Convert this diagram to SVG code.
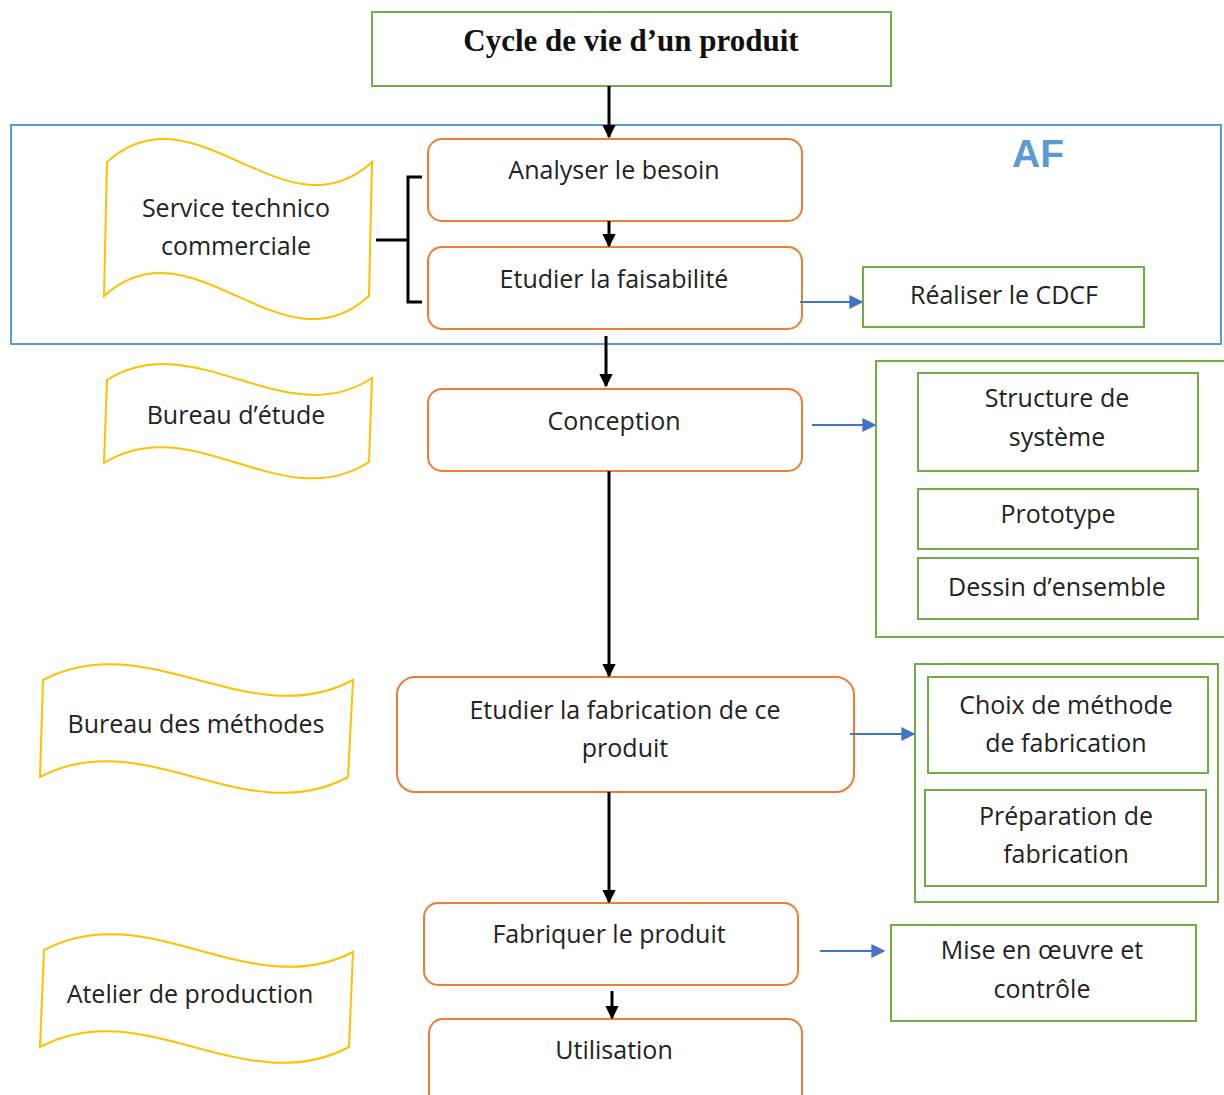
<svg xmlns="http://www.w3.org/2000/svg" width="1224" height="1095" viewBox="0 0 1224 1095">
  <defs>
    <marker id="arrowBlack" viewBox="0 0 10 10" refX="9" refY="5" markerWidth="4.5" markerHeight="4.5" orient="auto" markerUnits="strokeWidth">
      <path d="M0,0 L10,5 L0,10 Z" fill="#000"/>
    </marker>
    <marker id="arrowBlue" viewBox="0 0 10 10" refX="9" refY="5" markerWidth="7" markerHeight="7" orient="auto" markerUnits="strokeWidth">
      <path d="M0,0 L10,5 L0,10 Z" fill="#4472C4"/>
    </marker>
  </defs>
  <style>
    .step { fill: #fff; stroke: #ED7D31; stroke-width: 2; }
    .out { fill: #fff; stroke: #70AD47; stroke-width: 2; }
    .wave { fill: #fff; stroke: #FFC000; stroke-width: 2; }
    .zone { fill: none; stroke: #5B9BD5; stroke-width: 2; }
    .lbl { font-family: "Open Sans", "Noto Sans", "DejaVu Sans", sans-serif; font-size: 25px; fill: #222; text-anchor: middle; }
    .flow { stroke: #000; stroke-width: 3; fill: none; marker-end: url(#arrowBlack); }
    .link { stroke: #4472C4; stroke-width: 2; fill: none; marker-end: url(#arrowBlue); }
  </style>
  <rect width="1224" height="1095" fill="#fff"/>

  <!-- AF zone -->
  <g id="zone-af">
    <rect class="zone" x="11" y="125" width="1210" height="219"/>
    <text x="1038" y="167" font-family="Liberation Sans, Arial, sans-serif" font-weight="bold" font-size="39" fill="#5B9BD5" text-anchor="middle">AF</text>
  </g>

  <!-- Title -->
  <g id="title">
    <rect class="out" x="372" y="12" width="519" height="74"/>
    <text x="631" y="51" font-family="Liberation Serif, Times New Roman, serif" font-weight="bold" font-size="31" fill="#111" text-anchor="middle">Cycle de vie d’un produit</text>
  </g>

  <!-- Services (wave shapes) -->
  <g id="svc-commercial">
    <path class="wave" d="M107,162 C195,82 285,242 372,162 L369,296 C282,376 192,216 104,296 Z"/>
    <text class="lbl" x="236" y="217">Service technico</text>
    <text class="lbl" x="236" y="255">commerciale</text>
  </g>
  <g id="svc-etude">
    <path class="wave" d="M107,380 C195,325 285,435 372,378 L369,462 C282,518 192,408 104,463 Z"/>
    <text class="lbl" x="236" y="424">Bureau d’étude</text>
  </g>
  <g id="svc-methodes">
    <path class="wave" d="M43,680 C146,625 250,735 353,680 L348,777 C246,832 142,722 40,777 Z"/>
    <text class="lbl" x="196" y="733">Bureau des méthodes</text>
  </g>
  <g id="svc-atelier">
    <path class="wave" d="M44,950 C147,895 250,1005 353,952 L349,1047 C245,1102 142,992 40,1047 Z"/>
    <text class="lbl" x="190" y="1003">Atelier de production</text>
  </g>

  <!-- Main steps -->
  <g id="step-besoin">
    <rect class="step" x="428" y="139" width="374" height="82" rx="14"/>
    <text class="lbl" x="614" y="179">Analyser le besoin</text>
  </g>
  <g id="step-faisabilite">
    <rect class="step" x="428" y="247" width="374" height="82" rx="14"/>
    <text class="lbl" x="614" y="288">Etudier la faisabilité</text>
  </g>
  <g id="step-conception">
    <rect class="step" x="428" y="389" width="374" height="82" rx="14"/>
    <text class="lbl" x="614" y="430">Conception</text>
  </g>
  <g id="step-fabrication-etude">
    <rect class="step" x="397" y="677" width="457" height="115" rx="18"/>
    <text class="lbl" x="625" y="719">Etudier la fabrication de ce</text>
    <text class="lbl" x="625" y="757">produit</text>
  </g>
  <g id="step-fabriquer">
    <rect class="step" x="424" y="903" width="374" height="82" rx="14"/>
    <text class="lbl" x="609" y="943">Fabriquer le produit</text>
  </g>
  <g id="step-utilisation">
    <rect class="step" x="429" y="1019" width="373" height="90" rx="14"/>
    <text class="lbl" x="614" y="1059">Utilisation</text>
  </g>

  <!-- Outputs -->
  <g id="out-cdcf">
    <rect class="out" x="863" y="267" width="281" height="60"/>
    <text class="lbl" x="1004" y="304">Réaliser le CDCF</text>
  </g>
  <g id="out-conception">
    <rect class="out" x="876" y="361" width="350" height="276"/>
    <g id="out-structure">
      <rect class="out" x="918" y="373" width="280" height="98"/>
      <text class="lbl" x="1057" y="407">Structure de</text>
      <text class="lbl" x="1057" y="446">système</text>
    </g>
    <g id="out-prototype">
      <rect class="out" x="918" y="489" width="280" height="60"/>
      <text class="lbl" x="1058" y="523">Prototype</text>
    </g>
    <g id="out-dessin">
      <rect class="out" x="918" y="558" width="280" height="61"/>
      <text class="lbl" x="1057" y="596">Dessin d’ensemble</text>
    </g>
  </g>
  <g id="out-methodes">
    <rect class="out" x="915" y="664" width="303" height="238"/>
    <g id="out-choix">
      <rect class="out" x="928" y="677" width="280" height="96"/>
      <text class="lbl" x="1066" y="714">Choix de méthode</text>
      <text class="lbl" x="1066" y="752">de fabrication</text>
    </g>
    <g id="out-preparation">
      <rect class="out" x="925" y="790" width="281" height="96"/>
      <text class="lbl" x="1066" y="825">Préparation de</text>
      <text class="lbl" x="1066" y="863">fabrication</text>
    </g>
  </g>
  <g id="out-mise-en-oeuvre">
    <rect class="out" x="891" y="925" width="305" height="96"/>
    <text class="lbl" x="1042" y="959">Mise en œuvre et</text>
    <text class="lbl" x="1042" y="998">contrôle</text>
  </g>

  <!-- Connectors -->
  <g id="connectors">
    <line class="flow" x1="609" y1="86" x2="609" y2="137"/>
    <line class="flow" x1="609" y1="221" x2="609" y2="246"/>
    <line class="flow" x1="606" y1="336" x2="606" y2="386"/>
    <line class="flow" x1="609" y1="471" x2="609" y2="676"/>
    <line class="flow" x1="609" y1="792" x2="609" y2="902"/>
    <line class="flow" x1="612" y1="991" x2="612" y2="1018"/>
    <path d="M422,177 H408 V302 H422 M376,240 H408" fill="none" stroke="#000" stroke-width="3"/>
    <line class="link" x1="800" y1="302" x2="862" y2="302"/>
    <line class="link" x1="812" y1="425" x2="875" y2="425"/>
    <line class="link" x1="850" y1="734" x2="914" y2="734"/>
    <line class="link" x1="820" y1="951" x2="884" y2="951"/>
  </g>
</svg>
